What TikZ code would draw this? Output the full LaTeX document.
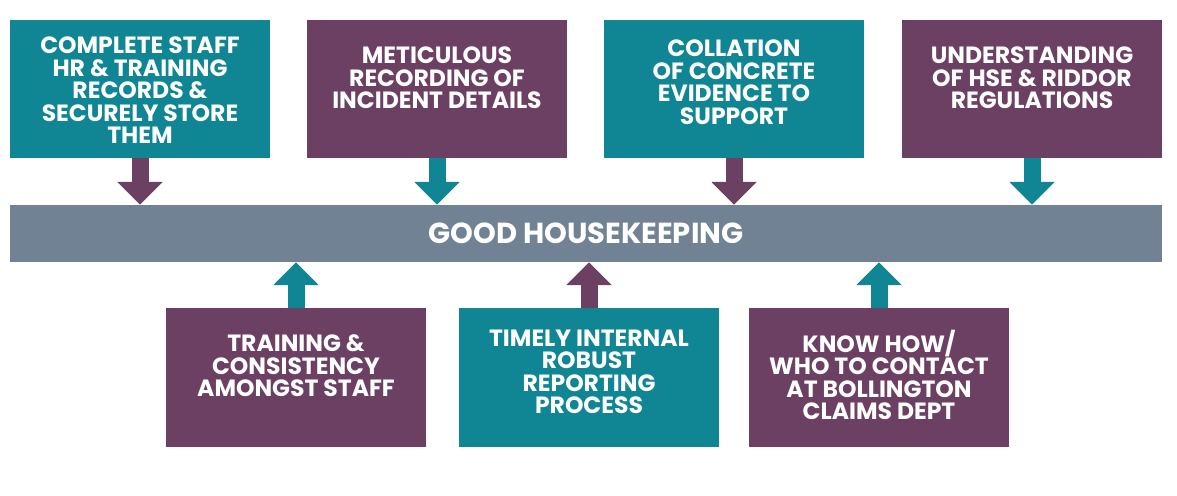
\documentclass[tikz,border=0pt]{standalone}
\usepackage{fontspec}
\setmainfont{Poppins}
\usetikzlibrary{arrows.meta,positioning}
\definecolor{hkteal}{HTML}{108594}
\definecolor{hkplum}{HTML}{6B4063}
\definecolor{hkbar}{HTML}{708294}

\begin{document}
\begin{tikzpicture}[x=1pt, y=1pt,
  box/.style={minimum width=260pt, minimum height=138pt, inner sep=0pt},
  txt/.style={text=white, font=\fontsize{23.5}{22.5}\selectfont\bfseries, align=center, inner sep=0pt},
  arr/.style={line width=17pt, -{Triangle[length=23pt, width=44pt]}}]
\useasboundingbox (0,0) rectangle (1177,495);
% top row
\node[box, fill=hkteal] (hr) at (140,406) {};
\node[txt, below=17pt of hr.north] (hrtxt) {COMPLETE STAFF\\HR \& TRAINING\\RECORDS \&\\SECURELY STORE\\THEM};
\node[box, fill=hkplum] (rec) at (437,406) {};
\node[txt, below=27pt of rec.north] (rectxt) {METICULOUS\\RECORDING OF\\INCIDENT DETAILS};
\node[box, fill=hkteal] (evi) at (734,406) {};
\node[txt, below=20pt of evi.north] (evitxt) {COLLATION\\OF CONCRETE\\EVIDENCE TO\\SUPPORT};
\node[box, fill=hkplum] (hse) at (1032,406) {};
\node[txt, below=27pt of hse.north] (hsetxt) {UNDERSTANDING\\OF HSE \& RIDDOR\\REGULATIONS};
% bar
\node[fill=hkbar, minimum width=1152pt, minimum height=57pt, inner sep=0pt, text=white,
  font=\fontsize{29}{30}\selectfont\bfseries] (bar) at (586,261.5) {GOOD HOUSEKEEPING};
% bottom row
\node[box, minimum height=139pt, fill=hkplum] (trn) at (296,117.5) {};
\node[txt, below=27pt of trn.north] (trntxt) {TRAINING \&\\CONSISTENCY\\AMONGST STAFF};
\node[box, minimum height=139pt, fill=hkteal] (rep) at (589,117.5) {};
\node[txt, below=22pt of rep.north] (reptxt) {TIMELY INTERNAL\\ROBUST\\REPORTING\\PROCESS};
\node[box, minimum height=139pt, fill=hkplum] (con) at (879,117.5) {};
\node[txt, below=22pt of con.north] (context) {KNOW HOW/\\WHO TO CONTACT\\AT BOLLINGTON\\CLAIMS DEPT};
% arrows
\draw[arr, hkplum] (hr.south) -- (hr.south |- bar.north);
\draw[arr, hkteal] (rec.south) -- (rec.south |- bar.north);
\draw[arr, hkplum] (evi.south) -- (evi.south |- bar.north);
\draw[arr, hkteal] (hse.south) -- (hse.south |- bar.north);
\draw[arr, hkteal] (trn.north) -- (trn.north |- bar.south);
\draw[arr, hkplum] (rep.north) -- (rep.north |- bar.south);
\draw[arr, hkteal] (con.north) -- (con.north |- bar.south);
\end{tikzpicture}
\end{document}
